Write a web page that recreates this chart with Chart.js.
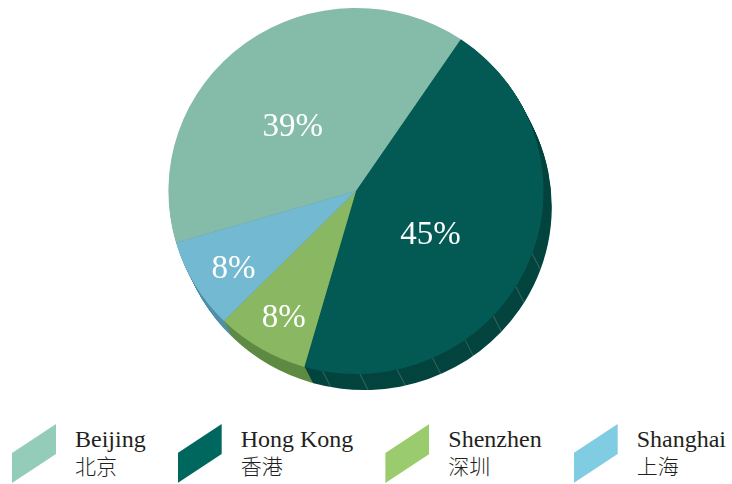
<!DOCTYPE html>
<html>
<head>
<meta charset="utf-8">
<script src="https://cdn.jsdelivr.net/npm/chart.js@4.4.1/dist/chart.umd.min.js"></script>
<style>
  body { margin: 0; background: #fff; }
  #wrap { position: relative; width: 732px; height: 484px; overflow: hidden; }
  #box { position: absolute; left: 0; top: 0; width: 732px; height: 410px; }
  #legend { position: absolute; left: 12px; top: 424px; display: flex; gap: 32px; }
  .item { display: flex; align-items: flex-start; }
  .icon { width: 44px; height: 60px; clip-path: polygon(0 29px, 44px 0, 44px 30px, 0 59px); }
  .txt { margin-left: 19px; color: #231f20; }
  .en { font-family: "Liberation Serif", serif; font-size: 24px; line-height: 26px; margin-top: 2px; }
  .zh { font-family: "Noto Sans CJK SC", sans-serif; font-weight: 300; font-size: 21px; line-height: 26px; }
</style>
</head>
<body>
<div id="wrap">
  <div id="box"><canvas id="pie"></canvas></div>
  <div id="legend"></div>
</div>
<script>
var cities = ['Beijing', 'Hong Kong', 'Shenzhen', 'Shanghai'];
var citiesZh = ['北京', '香港', '深圳', '上海'];
var shares = [39, 45, 8, 8];

var sliceColors = ['#85bca9', '#035a55', '#8ab862', '#74b9d2'];
var sideColors = ['#5f9482', '#03443f', '#5f8a43', '#4f8fa8'];
var legendColors = ['#93cdb9', '#00675f', '#9acb6d', '#80cce3'];

var STRETCH_X = 1.025;

// fake 3d: stack offset copies of each slice under the top face
var depthPlugin = {
    id: 'depth',
    beforeDatasetsDraw: function(chart) {
        var ctx = chart.ctx;
        var arcs = chart.getDatasetMeta(0).data;
        var steps = 16, dx = 8, dy = 16;
        var cx = arcs[0].x;
        ctx.save();
        // slightly wider than tall, like the original
        ctx.translate(cx, 0);
        ctx.scale(STRETCH_X, 1);
        ctx.translate(-cx, 0);
        for (var k = steps; k >= 1; k--) {
            var ox = dx * k / steps, oy = dy * k / steps;
            arcs.forEach(function(a, i) {
                ctx.fillStyle = sideColors[i];
                ctx.beginPath();
                ctx.moveTo(a.x + ox, a.y + oy);
                ctx.arc(a.x + ox, a.y + oy, a.outerRadius, a.startAngle, a.endAngle);
                ctx.closePath();
                ctx.fill();
            });
        }
        // faint seams on the side wall of the big slice only
        var hk = arcs[1];
        ctx.strokeStyle = 'rgba(255,255,255,0.18)';
        ctx.lineWidth = 1;
        for (var t = 0.35; t < hk.endAngle - 0.05; t += 0.2) {
            var px = hk.x + Math.cos(t) * hk.outerRadius;
            var py = hk.y + Math.sin(t) * hk.outerRadius;
            ctx.beginPath();
            ctx.moveTo(px, py);
            ctx.lineTo(px + dx, py + dy);
            ctx.stroke();
        }
    },
    afterDatasetsDraw: function(chart) {
        var ctx = chart.ctx;
        ctx.restore();
        var arcs = chart.getDatasetMeta(0).data;
        ctx.save();
        ctx.fillStyle = '#ffffff';
        ctx.font = '33px "Liberation Serif", serif';
        ctx.textAlign = 'center';
        ctx.textBaseline = 'middle';
        arcs.forEach(function(a, i) {
            var mid = (a.startAngle + a.endAngle) / 2;
            var f = shares[i] > 20 ? 0.48 : 0.76;
            var x = a.x + Math.cos(mid) * a.outerRadius * f * STRETCH_X;
            var y = a.y + Math.sin(mid) * a.outerRadius * f;
            if (i === 0) { x -= 10; }
            if (i === 1) { x -= 7; }
            ctx.fillText(shares[i] + '%', x, y + 7);
        });
        ctx.restore();
    }
};

window.onload = function() {
    var ctx = document.getElementById('pie').getContext('2d');
    window.myChart = new Chart(ctx, {
        type: 'pie',
        data: {
            labels: cities,
            datasets: [{
                data: shares,
                backgroundColor: sliceColors,
                borderWidth: 0
            }]
        },
        options: {
            responsive: true,
            maintainAspectRatio: false,
            animation: false,
            rotation: -106.4,
            layout: { padding: { top: 8, bottom: 36, left: 0, right: 20 } },
            plugins: {
                legend: { display: false },
                tooltip: { enabled: false }
            },
            events: []
        },
        plugins: [depthPlugin]
    });

    var legend = document.getElementById('legend');
    cities.forEach(function(name, i) {
        var item = document.createElement('div');
        item.className = 'item';
        item.innerHTML = '<div class="icon" style="background:' + legendColors[i] + '"></div>' +
            '<div class="txt"><div class="en">' + name + '</div><div class="zh">' + citiesZh[i] + '</div></div>';
        legend.appendChild(item);
    });
};
</script>
</body>
</html>
